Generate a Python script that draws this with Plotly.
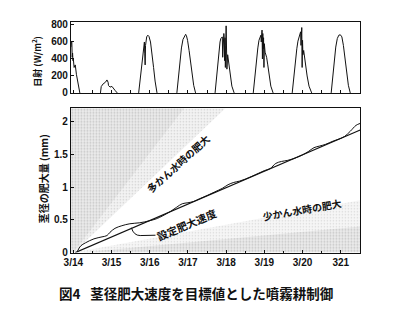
import plotly.graph_objects as go

# ---- solar radiation (W/m^2); time in days, 0 = 3/14 ----
rad_t_14 = [-0.065, -0.05, -0.04, -0.03, -0.02, -0.01, 0.0, 0.02, 0.05, 0.08, 0.11, 0.14, 0.17]
rad_v_14 = [540, 610, 600, 420, 470, 380, 400, 300, 330, 220, 140, 60, 0]
rad_t_15 = [0.71, 0.73, 0.78, 0.82, 0.84, 0.88, 0.91, 0.92, 0.96, 1.01, 1.05, 1.09, 1.15]
rad_v_15 = [0, 75, 107, 114, 126, 153, 126, 88, 69, 77, 50, 31, 0]
rad_t_16 = [1.71, 1.76, 1.80, 1.84, 1.86, 1.87, 1.88, 1.89, 1.90, 1.92, 1.95, 1.98, 2.02, 2.06, 2.10, 2.14, 2.19]
rad_v_16 = [0, 200, 380, 520, 600, 460, 330, 560, 610, 660, 680, 665, 600, 470, 300, 140, 0]
rad_t_17 = [2.71, 2.75, 2.79, 2.83, 2.87, 2.90, 2.92, 2.94, 2.96, 2.99, 3.03, 3.07, 3.11, 3.15, 3.20]
rad_v_17 = [0, 190, 380, 530, 630, 650, 670, 690, 675, 620, 500, 370, 220, 90, 0]
rad_t_18 = [3.71, 3.75, 3.79, 3.82, 3.84, 3.86, 3.88, 3.90, 3.91, 3.92, 3.93, 3.94, 3.95,
            3.96, 3.97, 3.98, 3.99, 4.00, 4.01, 4.02, 4.04, 4.06, 4.08, 4.11, 4.15, 4.21]
rad_v_18 = [0, 200, 380, 520, 600, 640, 650, 660, 420, 680, 520, 700, 640,
            380, 650, 300, 560, 790, 420, 280, 450, 380, 300, 200, 80, 0]
rad_t_19 = [4.71, 4.75, 4.79, 4.83, 4.86, 4.89, 4.91, 4.92, 4.93, 4.94, 4.95, 4.96,
            4.97, 4.98, 4.99, 5.00, 5.02, 5.04, 5.06, 5.09, 5.13, 5.17, 5.23]
rad_v_19 = [0, 200, 390, 530, 620, 660, 680, 600, 720, 740, 400, 700,
            520, 650, 300, 580, 480, 460, 420, 330, 200, 80, 0]
rad_t_20 = [5.73, 5.77, 5.81, 5.85, 5.88, 5.91, 5.93, 5.95, 5.96, 5.97, 5.98, 5.99,
            6.00, 6.01, 6.03, 6.05, 6.08, 6.12, 6.17, 6.24]
rad_v_20 = [0, 200, 380, 520, 610, 650, 690, 720, 560, 740, 770, 300,
            620, 450, 500, 420, 320, 200, 80, 0]
rad_t_21 = [6.75, 6.79, 6.83, 6.87, 6.91, 6.95, 6.99, 7.03, 7.07, 7.11, 7.15, 7.20, 7.25]
rad_v_21 = [0, 200, 390, 540, 640, 680, 685, 660, 560, 400, 240, 90, 0]

# ---- stem diameter increase (mm) ----
target_t = [0.05, 7.51]
target_v = [0.0, 1.87]

meas_t = [0.11, 0.19, 0.32, 0.54, 0.75, 0.88, 0.96, 1.09, 1.27, 1.48, 1.74, 1.99, 2.17,
          2.25, 2.4, 2.55, 2.7, 2.85, 3.0, 3.15, 3.3, 3.5, 3.7, 3.9, 4.05, 4.2, 4.35,
          4.5, 4.7, 4.85, 5.0, 5.15, 5.3, 5.45, 5.6, 5.8, 6.0, 6.15, 6.3, 6.45, 6.6,
          6.8, 6.95, 7.1, 7.25, 7.4, 7.51]
meas_v = [0.025, 0.10, 0.15, 0.21, 0.24, 0.26, 0.31, 0.37, 0.41, 0.44, 0.455, 0.485, 0.515,
          0.535, 0.58, 0.63, 0.69, 0.745, 0.76, 0.78, 0.82, 0.87, 0.925, 0.98, 1.035, 1.07, 1.09,
          1.12, 1.17, 1.21, 1.25, 1.28, 1.36, 1.39, 1.405, 1.44, 1.49, 1.54, 1.60, 1.625, 1.65,
          1.70, 1.73, 1.77, 1.85, 1.94, 1.97]

# growth bands (more / less irrigation): outer faint band and denser core
wet_t = [-0.065, 0.01, 3.98, -0.065]
wet_v = [0.0, 0.0, 2.2, 2.2]
wet_core_t = [-0.065, 0.0, 2.9, -0.065]
wet_core_v = [0.0, 0.0, 2.2, 2.2]
dry_t = [0.01, 7.51, 7.51]
dry_v = [0.0, 0.80, 0.0]
dry_core_t = [0.2, 7.51, 7.51]
dry_core_v = [0.0, 0.40, 0.0]

day_ticks = [0, 1, 2, 3, 4, 5, 6, 7]
day_labels = ["3/14", "3/15", "3/16", "3/17", "3/18", "3/19", "3/20", "321"]

XR = [-0.065, 7.51]
FONT_NUM = "Liberation Sans"
FONT_JP = "Noto Sans CJK JP"


def join_days(*pairs):
    t, v = [], []
    for tt, vv in pairs:
        t += tt + [None]
        v += vv + [None]
    return t, v


rad_t, rad_v = join_days((rad_t_14, rad_v_14), (rad_t_15, rad_v_15), (rad_t_16, rad_v_16),
                         (rad_t_17, rad_v_17), (rad_t_18, rad_v_18), (rad_t_19, rad_v_19),
                         (rad_t_20, rad_v_20), (rad_t_21, rad_v_21))

fig = go.Figure()


def stipple(t, v, bg, fg, solidity):
    fig.add_trace(go.Scatter(x=t, y=v, xaxis="x2", yaxis="y2", mode="none",
                             fill="toself", fillcolor=bg,
                             fillpattern=dict(shape=".", bgcolor=bg, fgcolor=fg,
                                              size=3, solidity=solidity),
                             hoverinfo="skip", showlegend=False))


stipple(wet_t, wet_v, "#f3f3f3", "#a8a8a8", 0.22)
stipple(wet_core_t, wet_core_v, "#ececec", "#9c9c9c", 0.3)
stipple(dry_t, dry_v, "#f6f6f6", "#b4b4b4", 0.18)
stipple(dry_core_t, dry_core_v, "#ececec", "#9c9c9c", 0.3)

fig.add_trace(go.Scatter(x=rad_t, y=rad_v, mode="lines", xaxis="x", yaxis="y",
                         line=dict(color="#111", width=1), showlegend=False))
fig.add_trace(go.Scatter(x=target_t, y=target_v, mode="lines", xaxis="x2", yaxis="y2",
                         line=dict(color="#111", width=1.2), showlegend=False))
fig.add_trace(go.Scatter(x=meas_t, y=meas_v, mode="lines", xaxis="x2", yaxis="y2",
                         line=dict(color="#111", width=1, shape="spline"), showlegend=False))

xdom = [65 / 400, 359.5 / 400]
axis_common = dict(showline=True, linecolor="#111", linewidth=1, mirror=True,
                   showgrid=False, zeroline=False, ticks="inside", tickcolor="#111")

fig.update_layout(
    width=400, height=326, margin=dict(l=0, r=0, t=0, b=0),
    paper_bgcolor="white", plot_bgcolor="white",
    xaxis=dict(domain=xdom, range=XR, anchor="y", showticklabels=False,
               tickvals=[i * 0.5 for i in range(16)], ticklen=3, **axis_common),
    yaxis=dict(domain=[1 - 92.5 / 326, 1 - 20 / 326], range=[0, 830], anchor="x",
               tickvals=[0, 200, 400, 600, 800], ticklen=3,
               tickfont=dict(family=FONT_NUM, size=10, color="#111", weight="bold"),
               **axis_common),
    xaxis2=dict(domain=xdom, range=XR, anchor="y2", tickvals=day_ticks, ticktext=day_labels,
                ticklen=3, tickfont=dict(family=FONT_NUM, size=10, color="#111", weight="bold"),
                minor=dict(dtick=0.5, tick0=0, ticklen=2, ticks="inside", tickcolor="#111"),
                **axis_common),
    yaxis2=dict(domain=[1 - 256.7 / 326, 1 - 108.3 / 326], range=[0, 2.2], anchor="x2",
                tickvals=[0, 0.5, 1, 1.5, 2], ticktext=["0", "0.5", "1", "1.5", "2"], ticklen=3,
                tickfont=dict(family=FONT_NUM, size=10, color="#111", weight="bold"),
                **axis_common),
)

jp = dict(family=FONT_JP, color="#111", weight="bold")

fig.add_annotation(text="日射 (W/m<sup>2</sup>)", x=31 / 400, y=1 - 60 / 326, xref="paper",
                   yref="paper", xanchor="center", yanchor="middle", textangle=-90,
                   showarrow=False, font=dict(size=9, **jp))
fig.add_annotation(text="茎径の肥大量 (mm)", x=37 / 400, y=1 - 181 / 326, xref="paper",
                   yref="paper", xanchor="center", yanchor="middle", textangle=-90,
                   showarrow=False, font=dict(size=10, **jp))

fig.add_annotation(text="多かん水時の肥大", x=2.74, y=1.36, xref="x2", yref="y2",
                   textangle=-42, showarrow=False, font=dict(size=10, **jp))
fig.add_annotation(text="設定肥大速度", x=2.97, y=0.43, xref="x2", yref="y2",
                   textangle=-23, showarrow=False, font=dict(size=10.5, **jp))
fig.add_annotation(text="少かん水時の肥大", x=5.98, y=0.66, xref="x2", yref="y2",
                   textangle=-10, showarrow=False, font=dict(size=10, **jp))

# leader from the target line to its label
fig.add_shape(type="path", xref="x2", yref="y2",
              path="M 1.52,0.38 Q 1.58,0.26 1.75,0.26 L 2.15,0.265",
              line=dict(color="#111", width=1))

fig.add_annotation(text="図4\u2002 茎径肥大速度を目標値とした噴霧耕制御", x=51 / 400,
                   y=1 - 298 / 326, xref="paper", yref="paper", xanchor="left",
                   yanchor="middle", showarrow=False, font=dict(size=13.5, **jp))

fig.write_html("out.html")
